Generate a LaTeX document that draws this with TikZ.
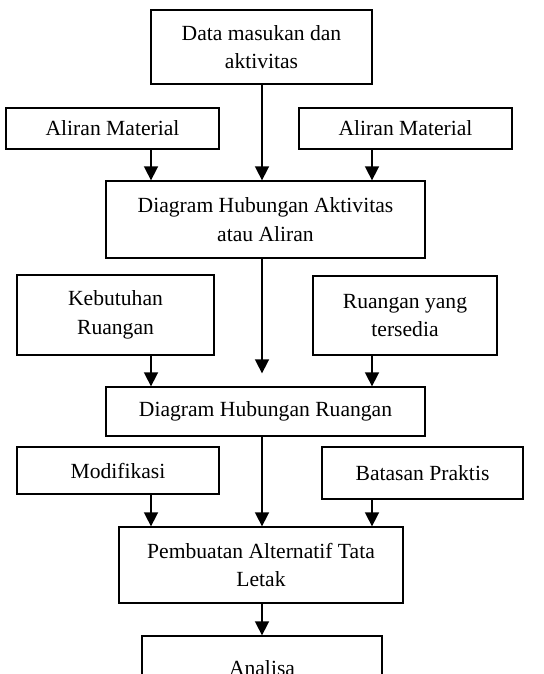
\documentclass[tikz,border=0pt]{standalone}
\usepackage{fontspec}
\setmainfont{Liberation Serif}
\usetikzlibrary{arrows.meta}
\begin{document}
\begin{tikzpicture}[x=1pt,y=-1pt,
    box/.style={draw,line width=1.3pt,align=center,inner sep=0pt,
      font=\fontsize{21.6}{28.5}\selectfont},
    arr/.style={-{Triangle[length=14pt,width=14pt]},line width=1.6pt}]
  \useasboundingbox (0,0) rectangle (543,674);
  \clip (0,0) rectangle (543,674);

  \coordinate (xl) at (151,0);
  \coordinate (xc) at (262,0);
  \coordinate (xr) at (372,0);

  \node[box,minimum width=221pt,minimum height=74pt] (data) at (261.5,47)
    {Data masukan dan\\aktivitas};
  \node[box,minimum width=213pt,minimum height=41pt] (alirL) at (112.5,128.5)
    {Aliran Material};
  \node[box,minimum width=213pt,minimum height=41pt] (alirR) at (405.5,128.5)
    {Aliran Material};
  \node[box,minimum width=319pt,minimum height=77pt] (dha) at (265.5,219.5)
    {Diagram Hubungan Aktivitas\\atau Aliran};

  \node[box,minimum width=197pt,minimum height=80pt] (kebut) at (115.5,315)
    {Kebutuhan\\Ruangan};
  \node[box,minimum width=184pt,minimum height=79pt] (ruang) at (405,315.5)
    {Ruangan yang\\tersedia};
  \node[box,minimum width=319pt,minimum height=49pt] (dhr) at (265.5,411.5)
    {Diagram Hubungan Ruangan};

  \node[box,minimum width=202pt,minimum height=47pt] (modif) at (118,470.5)
    {Modifikasi};
  \node[box,minimum width=201pt,minimum height=52pt] (batas) at (422.5,473)
    {Batasan Praktis};
  \node[box,minimum width=284pt,minimum height=76pt] (pemb) at (261,565)
    {Pembuatan Alternatif Tata\\Letak};
  \node[box,minimum width=240pt,minimum height=64pt] (anal) at (262,668)
    {Analisa};

  \draw[arr] (data.south -| xc) -- (dha.north -| xc);
  \draw[arr] (alirL.south -| xl) -- (dha.north -| xl);
  \draw[arr] (alirR.south -| xr) -- (dha.north -| xr);

  \draw[arr,shorten >=13pt] (dha.south -| xc) -- (dhr.north -| xc);
  \draw[arr] (kebut.south -| xl) -- (dhr.north -| xl);
  \draw[arr] (ruang.south -| xr) -- (dhr.north -| xr);

  \draw[arr] (dhr.south -| xc) -- (pemb.north -| xc);
  \draw[arr] (modif.south -| xl) -- (pemb.north -| xl);
  \draw[arr] (batas.south -| xr) -- (pemb.north -| xr);
  \draw[arr] (pemb.south -| xc) -- (anal.north -| xc);

\end{tikzpicture}
\end{document}
